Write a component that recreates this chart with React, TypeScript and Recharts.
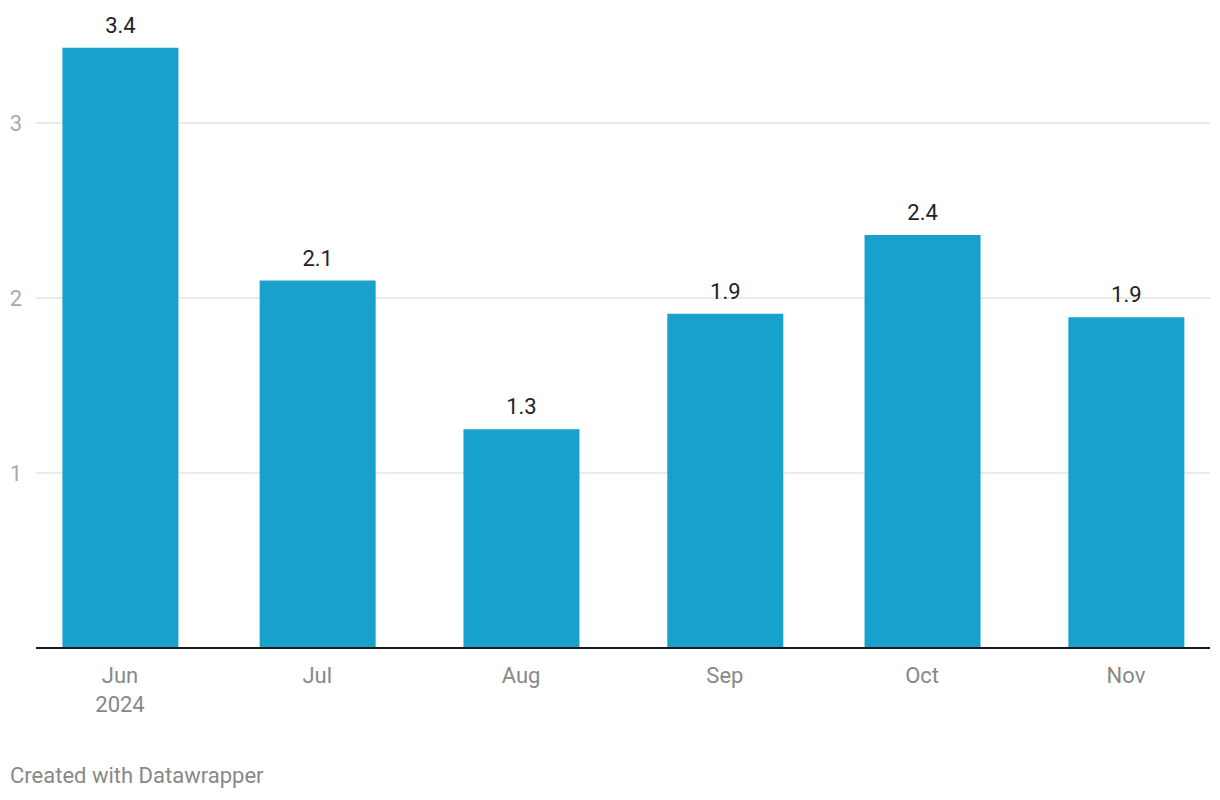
import { BarChart, Bar, XAxis, YAxis, CartesianGrid, LabelList } from "recharts"

const months = ["Jun", "Jul", "Aug", "Sep", "Oct", "Nov"]
const monthStarts = ["2024-06-01", "2024-07-01", "2024-08-01", "2024-09-01", "2024-10-01", "2024-11-01"]
const years = ["2024", "", "", "", "", ""]
const values = [3.43, 2.1, 1.25, 1.91, 2.36, 1.89]
const yTicks = [1, 2, 3]

// time axis: days since first month start
const DAY = 86400000
const t0 = Date.parse(monthStarts[0])
const data = months.map((m, i) => ({
  day: (Date.parse(monthStarts[i]) - t0) / DAY,
  month: m,
  year: years[i],
  value: values[i],
}))
const xTicks = data.map((d) => d.day)

const FONT = "Roboto, 'Noto Sans', sans-serif"

function MonthTick(props: any) {
  const { x, y, payload } = props
  const d = data.find((r) => r.day === payload.value)
  if (!d) return null
  return (
    <g>
      <text x={x} y={y + 27} textAnchor="middle" fill="#888" fontSize={22} fontFamily={FONT}>
        {d.month}
      </text>
      {d.year && (
        <text x={x} y={y + 56} textAnchor="middle" fill="#888" fontSize={22} fontFamily={FONT}>
          {d.year}
        </text>
      )}
    </g>
  )
}

export default function App() {
  return (
    <div style={{ position: "absolute", left: 0, top: 0, width: 1220, height: 800, background: "#fff" }}>
      <BarChart
        width={1220}
        height={800}
        data={data}
        margin={{ top: 35.5, right: 10, bottom: 92, left: 0 }}
      >
        <CartesianGrid vertical={false} horizontalValues={yTicks} stroke="#e3e3e3" strokeWidth={1.5} />
        <XAxis
          dataKey="day"
          type="number"
          domain={[-12.78, 165.78]}
          ticks={xTicks}
          tick={<MonthTick />}
          tickLine={false}
          axisLine={{ stroke: "#1a1a1a", strokeWidth: 2 }}
          height={60}
          interval={0}
          allowDataOverflow
        />
        <YAxis
          domain={[0, 3.5]}
          ticks={yTicks}
          width={36}
          tickLine={false}
          axisLine={false}
          tickSize={0}
          tickMargin={14}
          tick={{ fill: "#aaa", fontSize: 22, fontFamily: FONT }}
        />
        <Bar dataKey="value" fill="#18a1cd" barSize={116} isAnimationActive={false}>
          <LabelList
            dataKey="value"
            position="top"
            offset={15}
            formatter={(v: any) => Number(v).toFixed(1)}
            fill="#222"
            fontSize={22}
            fontFamily={FONT}
          />
        </Bar>
      </BarChart>
      <div
        style={{
          position: "absolute",
          left: 10,
          top: 763,
          fontFamily: FONT,
          fontSize: 22,
          color: "#888",
          lineHeight: "26px",
        }}
      >
        Created with Datawrapper
      </div>
    </div>
  )
}
